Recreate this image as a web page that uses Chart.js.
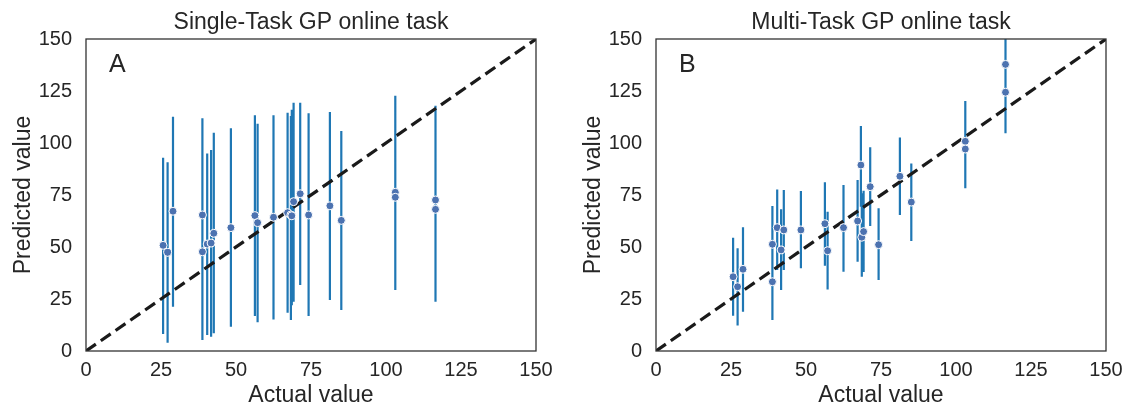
<!DOCTYPE html>
<html><head><meta charset="utf-8">
<script src="https://cdn.jsdelivr.net/npm/chart.js@4.4.0/dist/chart.umd.min.js"></script>
<style>
html,body{margin:0;padding:0;background:#fff;overflow:hidden;}
#wrap{position:relative;width:1124px;height:407px;overflow:hidden;}
canvas{position:absolute;top:0;}
</style></head><body>
<div id="wrap">
<canvas id="cA" width="560" height="407" style="left:0px"></canvas>
<canvas id="cB" width="560" height="407" style="left:570px"></canvas>
</div>
<script>
// ---- data ----
const actual = [25.7, 27.2, 29.0, 38.8, 38.8, 40.4, 41.7, 42.6, 48.3, 56.3, 57.2, 62.5,
                67.2, 68.3, 68.6, 69.2, 71.4, 74.2, 81.3, 85.1, 103.1, 103.1, 116.5, 116.5];

const stPred = [50.8, 47.4, 67.2, 65.4, 47.7, 51.4, 51.9, 56.6, 59.3, 65.1, 61.7, 64.3,
                66.5, 65.4, 65.0, 71.8, 75.6, 65.4, 69.8, 62.8, 76.3, 73.9, 72.6, 68.1];
const stLow  = [8.2, 4.0, 21.3, 19.0, 5.3, 7.7, 6.9, 8.5, 11.7, 16.8, 13.8, 15.2,
                18.4, 14.9, 22.0, 23.7, 31.7, 16.8, 24.5, 19.7, 29.3, 29.3, 23.7, 26.1];
const stHigh = [92.9, 90.7, 112.6, 111.9, 90.0, 95.0, 96.6, 104.9, 107.1, 113.3, 109.3, 113.3,
                114.6, 113.0, 116.0, 119.4, 119.4, 114.3, 114.9, 105.8, 122.7, 118.8, 117.9, 112.3];

const mtPred = [35.7, 30.9, 39.3, 51.3, 33.3, 59.3, 48.6, 58.2, 58.2, 61.2, 48.2, 59.3,
                62.5, 89.4, 54.7, 57.4, 79.0, 51.1, 84.0, 71.6, 100.8, 97.1, 137.8, 124.4];
const mtLow  = [17.0, 12.2, 18.9, 33.0, 14.9, 38.9, 29.3, 38.9, 39.8, 41.0, 29.6, 38.1,
                42.9, 69.4, 35.7, 38.0, 60.1, 34.1, 65.4, 52.9, 80.0, 78.2, 105.0, 104.7];
const mtHigh = [54.5, 49.4, 59.5, 69.7, 52.0, 77.7, 68.1, 77.4, 76.9, 81.1, 67.0, 79.8,
                82.2, 108.2, 75.8, 77.0, 97.9, 68.6, 102.6, 90.2, 120.2, 117.0, 171.0, 143.9];

const tickValues = [0, 25, 50, 75, 100, 125, 150];
const axisMin = 0, axisMax = 150;
const titles = ['Single-Task GP online task', 'Multi-Task GP online task'];
const panelLabels = ['A', 'B'];
const xTitle = 'Actual value';
const yTitle = 'Predicted value';

// ---- styling ----
const FONT = '"Liberation Sans", Arial, sans-serif';
const TXT = '#262626';

const decor = {
  id: 'decor',
  afterDraw(chart, args, opts) {
    const {ctx, chartArea: a} = chart;
    ctx.save();
    ctx.strokeStyle = '#333333';
    ctx.lineWidth = 1.3;
    ctx.strokeRect(a.left, a.top, a.right - a.left, a.bottom - a.top);
    ctx.fillStyle = TXT;
    ctx.font = '23px ' + FONT;
    ctx.textAlign = 'center';
    ctx.textBaseline = 'alphabetic';
    ctx.fillText(opts.title, (a.left + a.right) / 2, 28.5);
    ctx.font = '25px ' + FONT;
    ctx.textAlign = 'left';
    ctx.fillText(opts.label, a.left + 23, a.top + 33);
    ctx.restore();
  }
};

function makeChart(id, pred, lo, hi, idx, padRight) {
  const points = actual.map((x, i) => ({x: x, y: pred[i]}));
  const bars = [];
  actual.forEach((x, i) => { bars.push({x: x, y: lo[i]}, {x: x, y: hi[i]}, {x: x, y: null}); });
  const diag = [{x: axisMin, y: axisMin}, {x: axisMax, y: axisMax}];
  return new Chart(document.getElementById(id), {
    type: 'scatter',
    data: {
      datasets: [
        {data: points, pointRadius: 4, pointBorderWidth: 1, pointBorderColor: '#ffffff',
         pointBackgroundColor: '#4c72b0', showLine: false},
        {data: diag, showLine: true, borderColor: '#1a1a1a', borderWidth: 3.2,
         borderDash: [12, 6], pointRadius: 0},
        {data: bars, showLine: true, spanGaps: false, borderColor: '#1f77b4', borderWidth: 2.2,
         pointRadius: 0}
      ]
    },
    options: {
      responsive: false,
      animation: false,
      devicePixelRatio: 1,
      layout: {padding: {left: 0, right: padRight, top: 39, bottom: 0}},
      plugins: {legend: {display: false}, tooltip: {enabled: false},
                decor: {title: titles[idx], label: panelLabels[idx]}},
      scales: {
        x: {
          type: 'linear', min: axisMin, max: axisMax,
          afterBuildTicks: s => { s.ticks = tickValues.map(v => ({value: v})); },
          afterFit: s => { s.height = 56; },
          grid: {display: false, drawTicks: false},
          border: {display: false},
          ticks: {padding: 7, color: TXT, font: {family: FONT, size: 20}, maxRotation: 0},
          title: {display: true, text: xTitle, color: TXT, padding: {top: 0, bottom: 0},
                  font: {family: FONT, size: 23, lineHeight: 1}}
        },
        y: {
          type: 'linear', min: axisMin, max: axisMax,
          afterBuildTicks: s => { s.ticks = tickValues.map(v => ({value: v})); },
          afterFit: s => { s.width = 86; },
          grid: {display: false, drawTicks: false},
          border: {display: false},
          ticks: {padding: 14, color: TXT, font: {family: FONT, size: 20}},
          title: {display: true, text: yTitle, color: TXT, padding: {top: 12, bottom: 0},
                  font: {family: FONT, size: 23, lineHeight: 1}}
        }
      }
    },
    plugins: [decor]
  });
}

makeChart('cA', stPred, stLow, stHigh, 0, 24);
makeChart('cB', mtPred, mtLow, mtHigh, 1, 24);
</script>
</body></html>
